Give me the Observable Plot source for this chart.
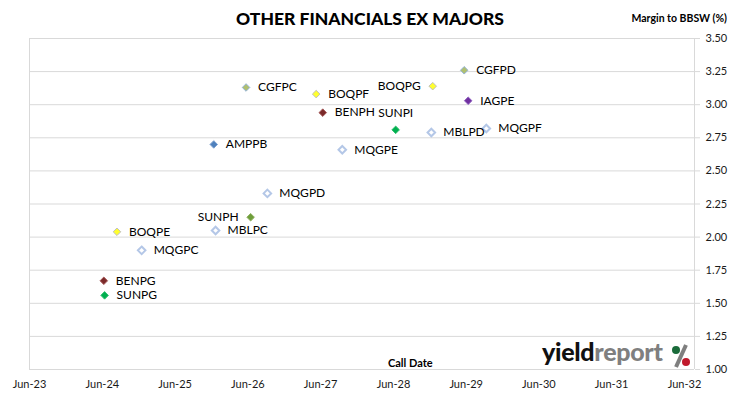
<!DOCTYPE html>
<html><head><meta charset="utf-8">
<script src="https://cdn.jsdelivr.net/npm/d3@7"></script>
<script src="https://cdn.jsdelivr.net/npm/@observablehq/plot@0.6"></script>
<style>
body{margin:0;background:#fff;}
#wrap{position:relative;width:730px;height:399px;font-family:Lato,"Open Sans",sans-serif;color:#000;}
#chart svg{position:absolute;left:0;top:0;}
.ov{position:absolute;white-space:nowrap;line-height:1;}
#title{left:0;width:740px;top:10px;text-align:center;font-weight:900;font-size:17.5px;}
#ylab{right:3px;top:13px;font-weight:700;font-size:10.5px;}
#xlab{left:388px;top:357px;font-weight:700;font-size:11px;}
#logo{left:542px;top:339px;font-weight:900;font-size:25px;letter-spacing:-0.3px;}
#logo .y{color:#111;} #logo .r{color:#7f7f7f;}
#wrap #pct{position:absolute;left:671px;top:343px;}
</style></head><body>
<div id="wrap">
  <div id="chart"></div>
  <div class="ov" id="title">OTHER FINANCIALS EX MAJORS</div>
  <div class="ov" id="ylab">Margin to BBSW (%)</div>
  <div class="ov" id="xlab">Call Date</div>
  <div class="ov" id="logo"><span class="y">yield</span><span class="r">report</span></div>
  <svg id="pct" width="20" height="26" viewBox="0 0 20 26">
    <line x1="15" y1="2" x2="5" y2="24" stroke="#7f7f7f" stroke-width="4"/>
    <circle cx="5" cy="7" r="4" fill="#1a6b3a"/>
    <circle cx="15" cy="19" r="4" fill="#c0192c"/>
  </svg>
</div>
<script>
// ---- data ----
const securities = ["BENPG","SUNPG","BOQPE","MQGPC","AMPPB","MBLPC","CGFPC","SUNPH","MQGPD","BOQPF","BENPH","MQGPE","SUNPI","MBLPD","BOQPG","CGFPD","IAGPE","MQGPF"];
const callDates  = ["2024-06-08","2024-06-12","2024-08-13","2024-12-15","2025-12-12","2025-12-21","2026-05-23","2026-06-15","2026-09-07","2027-05-10","2027-06-12","2027-09-18","2028-06-12","2028-12-08","2028-12-15","2029-05-22","2029-06-11","2029-09-10"];
const margins    = [1.67,1.56,2.04,1.90,2.70,2.05,3.13,2.15,2.33,3.08,2.94,2.66,2.81,2.79,3.14,3.26,3.03,2.82];
const issuers    = ["BEN","SUN","BOQ","MQG","AMP","MBL","CGF","SUNH","MQG","BOQ","BEN","MQG","SUN","MBL","BOQ","CGF","IAG","MQG"];
const xTickDates = ["2023-06-01","2024-06-01","2025-06-01","2026-06-01","2027-06-01","2028-06-01","2029-06-01","2030-06-01","2031-06-01","2032-06-01"];
const xTickLabels = ["Jun-23","Jun-24","Jun-25","Jun-26","Jun-27","Jun-28","Jun-29","Jun-30","Jun-31","Jun-32"];
const yTicks = [1.00,1.25,1.50,1.75,2.00,2.25,2.50,2.75,3.00,3.25,3.50];

// ---- styles ----
const fillOf = {BEN:"#7b2a2a",SUN:"#00b050",BOQ:"#ffff2e",MQG:"#ffffff",MBL:"#ffffff",AMP:"#4f81bd",CGF:"#b0c070",SUNH:"#6e9e3a",IAG:"#7030a0"};
const strokeOf = {BEN:"#a65a5a",SUN:"#33c070",BOQ:"#bfbfbf",MQG:"#b4c7e7",MBL:"#b4c7e7",AMP:"#7fa2d0",CGF:"#95b3d7",SUNH:"#8fb060",IAG:"#9060c0"};
const placeLeft = new Set(["SUNPH","BOQPG"]);
const placeAbove = new Set(["SUNPI"]);

const pts = securities.map((s,i)=>({name:s, date:new Date(callDates[i]), m:margins[i], iss:issuers[i]}));
const ticks = xTickDates.map(d=>new Date(d));
const grid = "#d9d9d9";

const chart = Plot.plot({
  width:730, height:399,
  marginLeft:29, marginRight:36, marginTop:38, marginBottom:30,
  style:{fontFamily:"Lato, 'Open Sans', sans-serif", fontSize:"11px", color:"#1a1a1a", background:"transparent"},
  x:{type:"utc", domain:[new Date("2023-06-01"), new Date("2032-07-21")]},
  y:{domain:[1,3.5]},
  marks:[
    Plot.ruleY(yTicks,{stroke:grid, strokeWidth:1}),
    Plot.ruleX([new Date("2023-06-01"), new Date("2032-07-21")],{stroke:grid, strokeWidth:1}),
    Plot.axisY({anchor:"right", ticks:yTicks, tickFormat:d=>d.toFixed(2), tickSize:5, tickPadding:6, stroke:grid, fill:"#1a1a1a", fontSize:11, label:null}),
    Plot.axisX({ticks:ticks, tickFormat:(d)=>xTickLabels[ticks.findIndex(t=>+t===+d)], tickSize:0, tickPadding:11, fill:"#1a1a1a", fontSize:11, label:null}),
    Plot.dot(pts,{x:"date", y:"m", symbol:"diamond2", r:3.4,
      fill:d=>fillOf[d.iss], stroke:d=>strokeOf[d.iss],
      strokeWidth:d=>(d.iss==="MQG"||d.iss==="MBL")?2:1}),
    Plot.text(pts.filter(d=>!placeLeft.has(d.name)&&!placeAbove.has(d.name)),
      {x:"date", y:"m", text:"name", textAnchor:"start", dx:12, fontSize:12, fill:"#000"}),
    Plot.text(pts.filter(d=>placeLeft.has(d.name)),
      {x:"date", y:"m", text:"name", textAnchor:"end", dx:-12, fontSize:12, fill:"#000"}),
    Plot.text(pts.filter(d=>placeAbove.has(d.name)),
      {x:"date", y:"m", text:"name", textAnchor:"middle", dy:-17, fontSize:12, fill:"#000"})
  ]
});
document.getElementById("chart").appendChild(chart);
</script>
</body></html>
